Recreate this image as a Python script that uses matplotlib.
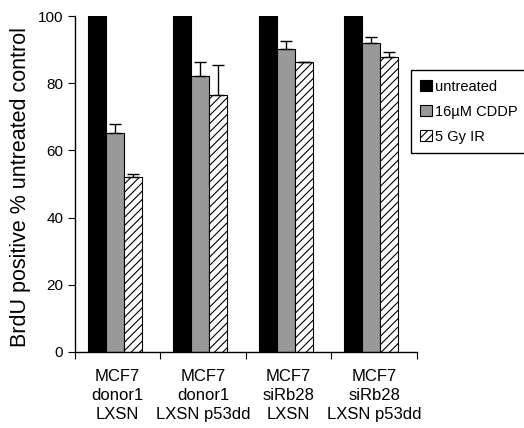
import numpy as np
import matplotlib as mpl; mpl.use('Agg')
import matplotlib.pyplot as plt
mpl.rcParams.update({'font.family': 'Liberation Sans', 'hatch.linewidth': 0.8, 'axes.linewidth': 1.0})

groups = ['MCF7\ndonor1\nLXSN', 'MCF7\ndonor1\nLXSN p53dd', 'MCF7\nsiRb28\nLXSN', 'MCF7\nsiRb28\nLXSN p53dd']
untreated = [100, 100, 100, 100]
cddp = [65.3, 82.1, 90.3, 92.1]
cddp_err = [2.7, 4.1, 2.4, 1.8]
ir = [52.1, 76.5, 86.4, 87.8]
ir_err = [1.0, 8.8, 0.0, 1.4]

fig = plt.figure(figsize=(5.24, 4.28), dpi=100)
ax = fig.add_axes([0.1431, 0.1776, 0.6527, 0.785])
x = np.arange(len(groups)); w = 0.21
ax.bar(x - 0.245, untreated, w, color='black', edgecolor='black', lw=0.8, label='untreated')
ax.bar(x - 0.035, cddp, w, color='#999999', edgecolor='black', lw=0.8, label='16µM CDDP',
       yerr=[np.zeros(4), cddp_err], capsize=4, error_kw=dict(ecolor='black', elinewidth=1, capthick=1))
ax.bar(x + 0.175, ir, w, color='white', edgecolor='black', lw=0.8, hatch='////', label='5 Gy IR',
       yerr=[np.zeros(4), ir_err], capsize=4, error_kw=dict(ecolor='black', elinewidth=1, capthick=1))

ax.set_xlim(-0.5, 3.5); ax.set_ylim(0, 100)
ax.set_yticks([0, 20, 40, 60, 80, 100]); ax.tick_params(axis='y', labelsize=11, length=5, direction='out')
ax.set_xticks(np.arange(-0.5, 4, 1)); ax.set_xticklabels([]); ax.tick_params(axis='x', length=5)
ax.set_xticks(x, minor=True); ax.set_xticklabels(groups, minor=True, fontsize=12, linespacing=1.35)
ax.tick_params(axis='x', which='minor', length=0, pad=12)
for s in ['top', 'right']: ax.spines[s].set_visible(False)
ax.set_ylabel('BrdU positive % untreated control', fontsize=15.5)
ax.yaxis.set_label_coords(-0.13, 0.49)
fig.legend(loc='upper left', bbox_to_anchor=(0.784, 0.836), fontsize=10.5, fancybox=False, framealpha=1,
           edgecolor='black', handlelength=0.8, handleheight=0.8, handletextpad=0.2, borderpad=0.65,
           labelspacing=0.75, borderaxespad=0)
fig.savefig('out.png', dpi=100)
